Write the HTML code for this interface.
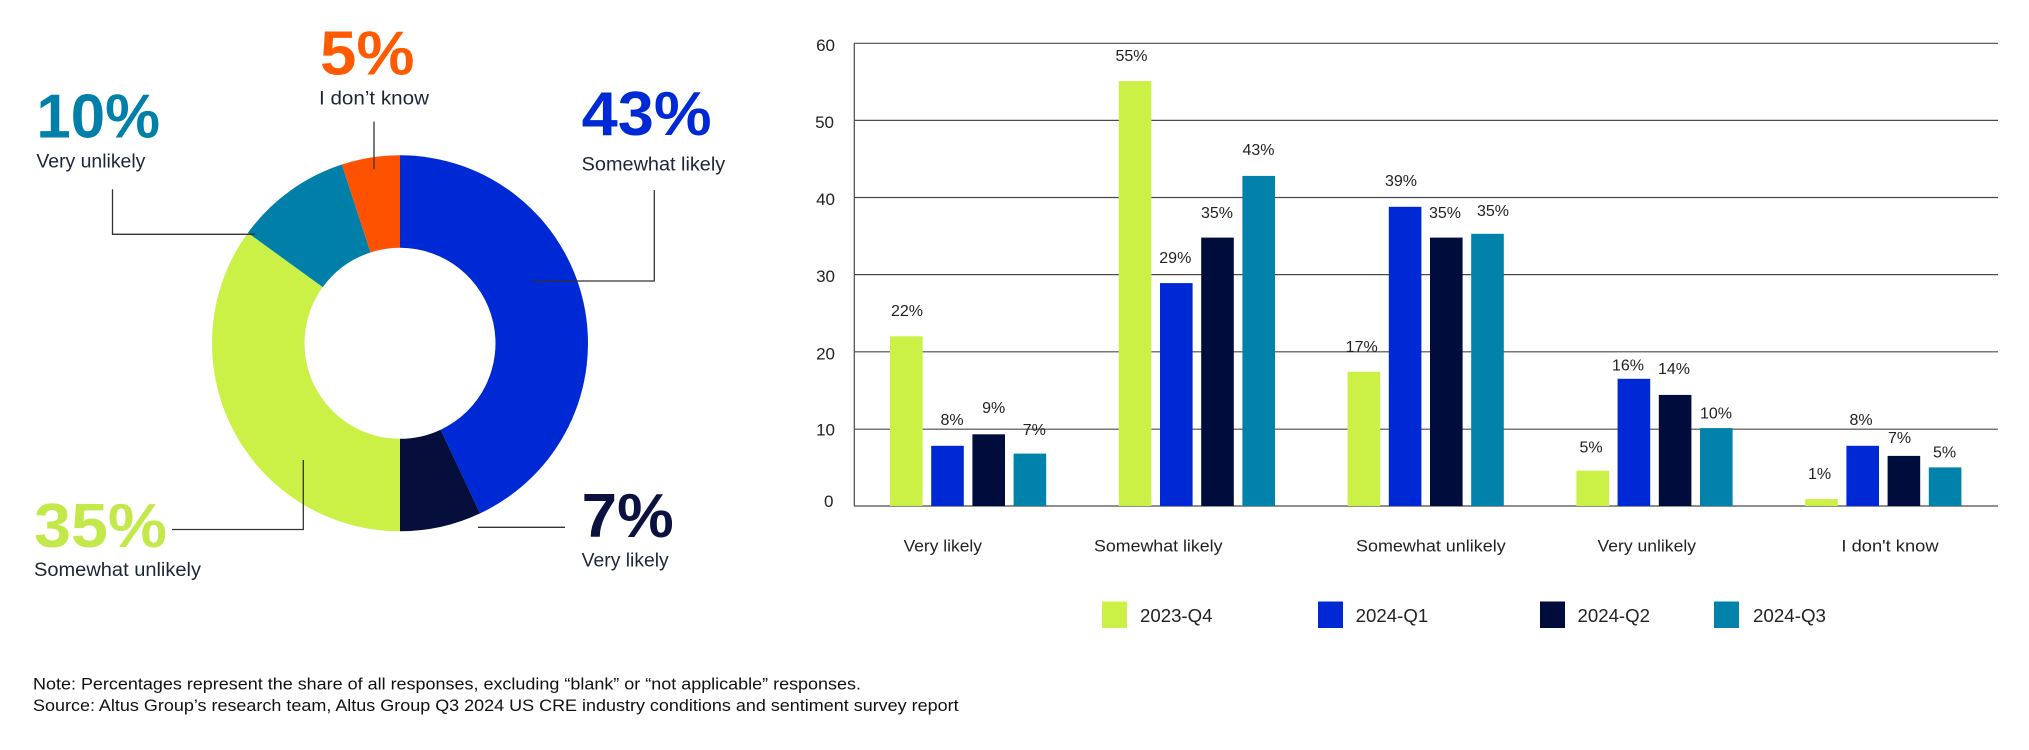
<!DOCTYPE html>
<html>
<head>
<meta charset="utf-8">
<style>
  html,body{margin:0;padding:0;background:#ffffff;}
  svg{display:block;}
  text{font-family:"Liberation Sans", Arial, sans-serif;}
</style>
</head>
<body>
<svg width="2029" height="750" viewBox="0 0 2029 750" xmlns="http://www.w3.org/2000/svg">
  <rect x="0" y="0" width="2029" height="750" fill="#ffffff"/>

  <!-- ===== DONUT ===== -->
  <path d="M400,155.3 A188,188 0 0 1 480.05,513.4 L440.66,429.71 A95.5,95.5 0 0 0 400,247.8 Z" fill="#0029d6"/>
  <path d="M480.05,513.4 A188,188 0 0 1 400,531.3 L400,438.8 A95.5,95.5 0 0 0 440.66,429.71 Z" fill="#060f3c"/>
  <path d="M400,531.3 A188,188 0 0 1 247.9,232.8 L322.74,287.17 A95.5,95.5 0 0 0 400,438.8 Z" fill="#cbf146"/>
  <path d="M247.9,232.8 A188,188 0 0 1 341.91,164.5 L370.49,252.47 A95.5,95.5 0 0 0 322.74,287.17 Z" fill="#0080a8"/>
  <path d="M341.91,164.5 A188,188 0 0 1 400,155.3 L400,247.8 A95.5,95.5 0 0 0 370.49,252.47 Z" fill="#ff5200"/>

  <!-- leader lines -->
  <g stroke="#333" stroke-width="1.3" fill="none">
    <polyline points="532,281 654.3,281 654.3,190"/>
    <polyline points="478,527.3 565,527.3"/>
    <polyline points="303.3,460 303.3,529.5 172,529.5"/>
    <polyline points="255,234.3 112.5,234.3 112.5,189.3"/>
    <polyline points="374,169.3 374,121.6"/>
  </g>

  <!-- donut labels -->
  <g font-weight="bold" font-size="62">
    <text x="320" y="74.6" fill="#ff5a00" textLength="94.5" lengthAdjust="spacingAndGlyphs">5%</text>
    <text x="36.4" y="137.5" fill="#0080a8" textLength="123.6" lengthAdjust="spacingAndGlyphs">10%</text>
    <text x="581.7" y="135" fill="#0029d6" textLength="130" lengthAdjust="spacingAndGlyphs">43%</text>
    <text x="34" y="547" fill="#c2e84a" textLength="133" lengthAdjust="spacingAndGlyphs">35%</text>
    <text x="581.7" y="537" fill="#0b1240" textLength="92" lengthAdjust="spacingAndGlyphs">7%</text>
  </g>
  <g font-size="19" fill="#1d2536">
    <text x="319" y="104.5" textLength="110" lengthAdjust="spacingAndGlyphs">I don’t know</text>
    <text x="36.4" y="167.5" textLength="109" lengthAdjust="spacingAndGlyphs">Very unlikely</text>
    <text x="581.7" y="170.7" textLength="143.5" lengthAdjust="spacingAndGlyphs">Somewhat likely</text>
    <text x="34" y="576" textLength="167" lengthAdjust="spacingAndGlyphs">Somewhat unlikely</text>
    <text x="581.7" y="566.5" textLength="87" lengthAdjust="spacingAndGlyphs">Very likely</text>
  </g>

  <!-- ===== BAR CHART ===== -->
  <!-- gridlines -->
  <g stroke="#4a4a4a" stroke-width="1.2">
    <line x1="854" y1="43.3" x2="1998" y2="43.3"/>
    <line x1="854" y1="120.4" x2="1998" y2="120.4"/>
    <line x1="854" y1="197.5" x2="1998" y2="197.5"/>
    <line x1="854" y1="274.6" x2="1998" y2="274.6"/>
    <line x1="854" y1="351.8" x2="1998" y2="351.8"/>
    <line x1="854" y1="429.2" x2="1998" y2="429.2"/>
    <line x1="854" y1="506" x2="1998" y2="506"/>
    <line x1="854.3" y1="43.3" x2="854.3" y2="506"/>
  </g>

  <!-- y tick labels -->
  <g font-size="17" fill="#222" text-anchor="end">
    <text x="835" y="51">60</text>
    <text x="834" y="128">50</text>
    <text x="835" y="205">40</text>
    <text x="835" y="282">30</text>
    <text x="835" y="359.5">20</text>
    <text x="835" y="435.5">10</text>
    <text x="833.5" y="507">0</text>
  </g>

  <!-- bars -->
  <g>
    <!-- Very likely -->
    <rect x="890.0" y="336.3" width="32.6" height="169.7" fill="#cbf146"/>
    <rect x="931.2" y="445.8" width="32.6" height="60.2" fill="#0029d6"/>
    <rect x="972.4" y="434.3" width="32.6" height="71.7" fill="#000d3c"/>
    <rect x="1013.6" y="453.6" width="32.6" height="52.4" fill="#0082aa"/>
    <!-- Somewhat likely -->
    <rect x="1118.8" y="81.1" width="32.6" height="424.9" fill="#cbf146"/>
    <rect x="1160.0" y="283.1" width="32.6" height="222.9" fill="#0029d6"/>
    <rect x="1201.2" y="237.6" width="32.6" height="268.4" fill="#000d3c"/>
    <rect x="1242.4" y="175.9" width="32.6" height="330.1" fill="#0082aa"/>
    <!-- Somewhat unlikely -->
    <rect x="1347.6" y="371.8" width="32.6" height="134.2" fill="#cbf146"/>
    <rect x="1388.8" y="206.8" width="32.6" height="299.2" fill="#0029d6"/>
    <rect x="1430.0" y="237.6" width="32.6" height="268.4" fill="#000d3c"/>
    <rect x="1471.2" y="233.8" width="32.6" height="272.2" fill="#0082aa"/>
    <!-- Very unlikely -->
    <rect x="1576.4" y="470.7" width="32.6" height="35.3" fill="#cbf146"/>
    <rect x="1617.6" y="378.8" width="32.6" height="127.2" fill="#0029d6"/>
    <rect x="1658.8" y="394.9" width="32.6" height="111.1" fill="#000d3c"/>
    <rect x="1700.0" y="428.1" width="32.6" height="77.9" fill="#0082aa"/>
    <!-- I don't know -->
    <rect x="1805.2" y="499.1" width="32.6" height="6.9" fill="#cbf146"/>
    <rect x="1846.4" y="445.8" width="32.6" height="60.2" fill="#0029d6"/>
    <rect x="1887.6" y="455.9" width="32.6" height="50.1" fill="#000d3c"/>
    <rect x="1928.8" y="467.4" width="32.6" height="38.6" fill="#0082aa"/>
  </g>

  <!-- value labels -->
  <g font-size="16" fill="#222" text-anchor="middle">
    <text x="907" y="316">22%</text>
    <text x="952" y="425">8%</text>
    <text x="993.7" y="413">9%</text>
    <text x="1034.3" y="435">7%</text>

    <text x="1131.5" y="61">55%</text>
    <text x="1175.3" y="263">29%</text>
    <text x="1217" y="218">35%</text>
    <text x="1258.5" y="155">43%</text>

    <text x="1361.7" y="352">17%</text>
    <text x="1401" y="186">39%</text>
    <text x="1445" y="218">35%</text>
    <text x="1493" y="216">35%</text>

    <text x="1591" y="452.7">5%</text>
    <text x="1628" y="370.7">16%</text>
    <text x="1674" y="374">14%</text>
    <text x="1716" y="418.3">10%</text>

    <text x="1819.5" y="479">1%</text>
    <text x="1861" y="425">8%</text>
    <text x="1899.5" y="443">7%</text>
    <text x="1944.5" y="457.5">5%</text>
  </g>

  <!-- category labels -->
  <g font-size="17" fill="#222">
    <text x="903.6" y="551.5" textLength="78.4" lengthAdjust="spacingAndGlyphs">Very likely</text>
    <text x="1094" y="551.5" textLength="128.5" lengthAdjust="spacingAndGlyphs">Somewhat likely</text>
    <text x="1356" y="551.5" textLength="149.7" lengthAdjust="spacingAndGlyphs">Somewhat unlikely</text>
    <text x="1597.5" y="551.5" textLength="98.5" lengthAdjust="spacingAndGlyphs">Very unlikely</text>
    <text x="1841.4" y="551.5" textLength="97.2" lengthAdjust="spacingAndGlyphs">I don't know</text>
  </g>

  <!-- legend -->
  <rect x="1102" y="601.5" width="25" height="26.5" fill="#cbf146"/>
  <rect x="1318" y="601.5" width="25" height="26.5" fill="#0029d6"/>
  <rect x="1540" y="601.5" width="25" height="26.5" fill="#000d3c"/>
  <rect x="1714" y="601.5" width="25" height="26.5" fill="#0082aa"/>
  <g font-size="18" fill="#222">
    <text x="1140" y="622" textLength="72.5" lengthAdjust="spacingAndGlyphs">2023-Q4</text>
    <text x="1355.7" y="622" textLength="72.5" lengthAdjust="spacingAndGlyphs">2024-Q1</text>
    <text x="1577.5" y="622" textLength="72.5" lengthAdjust="spacingAndGlyphs">2024-Q2</text>
    <text x="1753" y="622" textLength="73" lengthAdjust="spacingAndGlyphs">2024-Q3</text>
  </g>

  <!-- notes -->
  <g font-size="16.5" fill="#111">
    <text x="33" y="689.3" textLength="828" lengthAdjust="spacingAndGlyphs">Note: Percentages represent the share of all responses, excluding “blank” or “not applicable” responses.</text>
    <text x="33" y="711" textLength="925.6" lengthAdjust="spacingAndGlyphs">Source: Altus Group’s research team, Altus Group Q3 2024 US CRE industry conditions and sentiment survey report</text>
  </g>
</svg>
</body>
</html>
